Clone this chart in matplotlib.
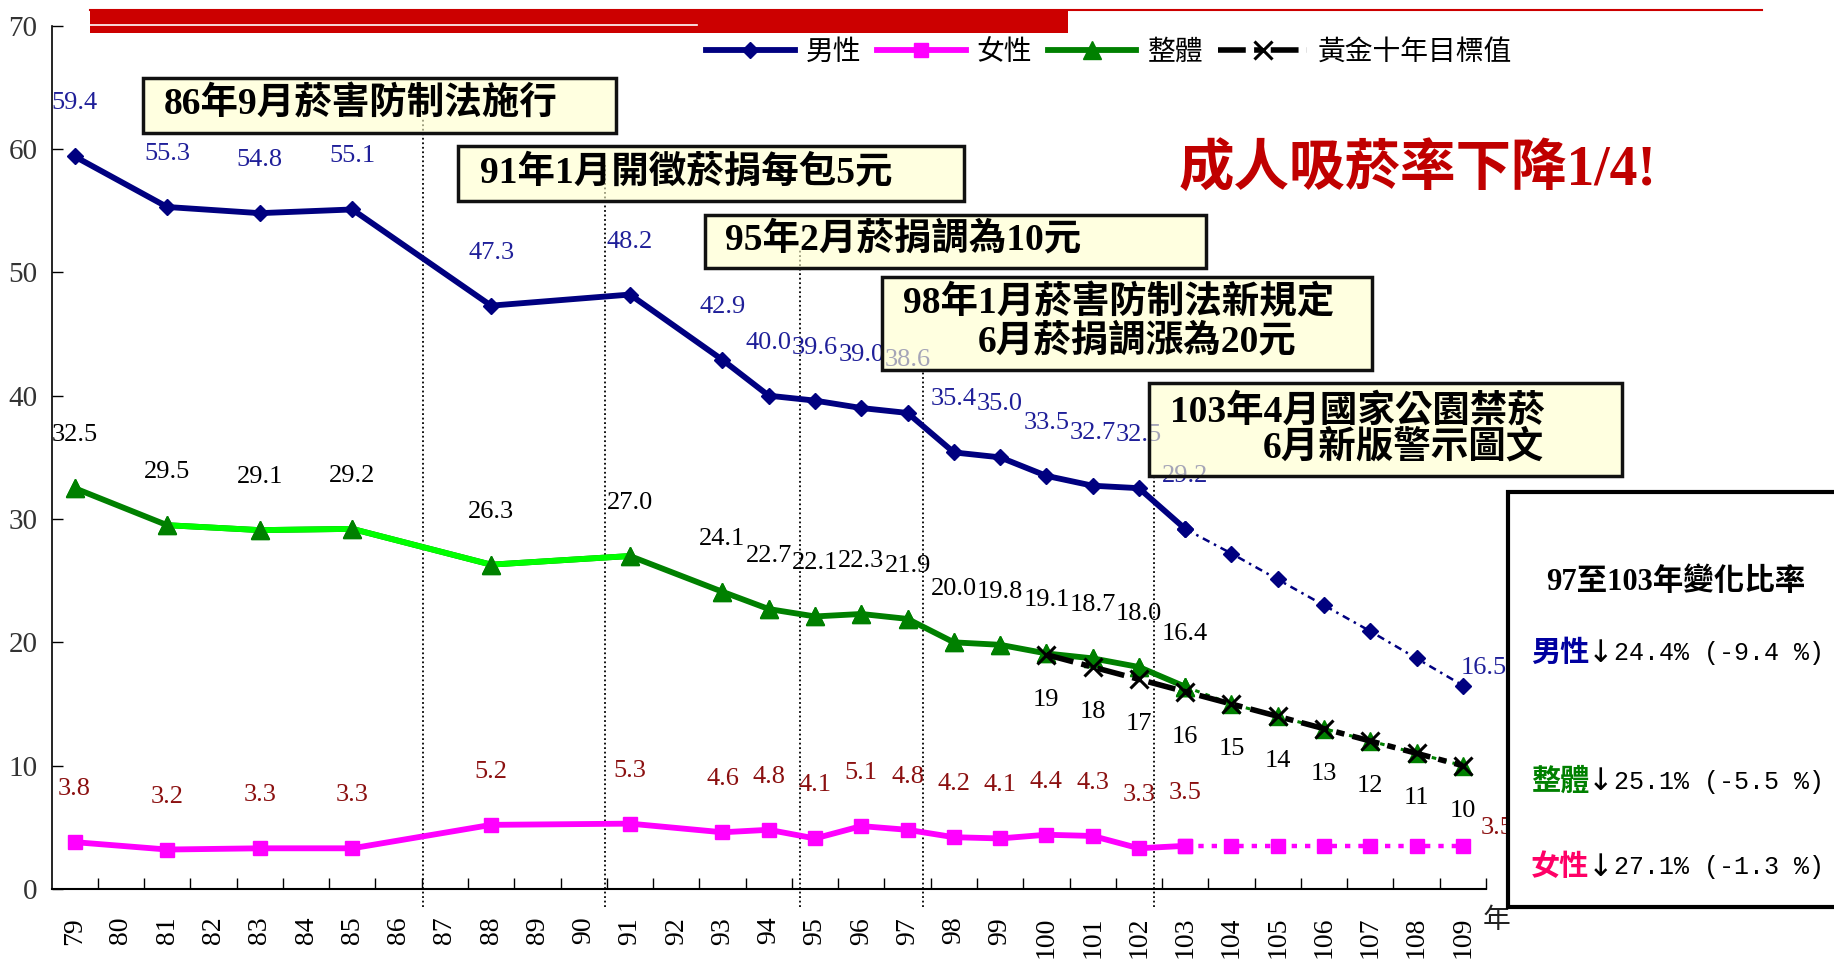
import matplotlib
matplotlib.use('Agg')
import matplotlib.pyplot as plt
from matplotlib.patches import Rectangle
from matplotlib.lines import Line2D

plt.rcParams['font.family'] = ['Liberation Serif', 'Noto Sans CJK TC', 'DejaVu Sans']

W, H = 1834, 960

# --- data ---
years = list(range(79, 110))
survey_years = [79, 81, 83, 85, 88, 91, 93, 94, 95, 96, 97, 98, 99, 100, 101, 102, 103]
male = [59.4, 55.3, 54.8, 55.1, 47.3, 48.2, 42.9, 40.0, 39.6, 39.0, 38.6, 35.4, 35.0, 33.5, 32.7, 32.5, 29.2]
female = [3.8, 3.2, 3.3, 3.3, 5.2, 5.3, 4.6, 4.8, 4.1, 5.1, 4.8, 4.2, 4.1, 4.4, 4.3, 3.3, 3.5]
overall = [32.5, 29.5, 29.1, 29.2, 26.3, 27.0, 24.1, 22.7, 22.1, 22.3, 21.9, 20.0, 19.8, 19.1, 18.7, 18.0, 16.4]

proj_years = [103, 104, 105, 106, 107, 108, 109]
male_proj = [29.2, 27.2, 25.1, 23.0, 20.9, 18.7, 16.5]
female_proj = [3.5, 3.5, 3.5, 3.5, 3.5, 3.5, 3.5]
overall_proj = [16.4, 15, 14, 13, 12, 11, 10]

target_years = [100, 101, 102, 103, 104, 105, 106, 107, 108, 109]
target = [19, 18, 17, 16, 15, 14, 13, 12, 11, 10]

# policy events: position on category axis, top of dotted line
event_x = [7.53, 11.46, 15.68, 18.34, 23.32]
event_top = [62.4, 58.7, 51.8, 42.1, 33.5]

navy = '#000080'
magenta = '#FF00FF'
dkgreen = '#008000'
lime = '#00FF00'

def pos(ys):
    return [years.index(y) for y in ys]

xs = pos(survey_years)
pxs = pos(proj_years)
txs = pos(target_years)

fig = plt.figure(figsize=(W / 100, H / 100), dpi=100)
ax = fig.add_axes([51.5 / W, 1 - 889 / H, (1486 - 51.5) / W, (889 - 25.7) / H])

# lines
lm, = ax.plot(xs, male, color=navy, lw=4.2, marker='D', ms=8.5, zorder=3)
ax.plot(pxs, male_proj, color=navy, lw=1.8, ls=(0, (3, 2, 1, 2)), marker='D', ms=8.5, zorder=3)

lf, = ax.plot(xs, female, color=magenta, lw=4.2, marker='s', ms=10.5, zorder=3)
ax.plot(pxs, female_proj, color=magenta, lw=3.2, ls=(0, (1.2, 1.8)), marker='s', ms=10.5, zorder=3)

lo, = ax.plot(xs, overall, color=dkgreen, lw=4.2, marker='^', ms=12.5, zorder=2)
ax.plot(xs[1:6], overall[1:6], color=lime, lw=4.2, zorder=2.1)
ax.plot(xs, overall, ls='none', color=dkgreen, marker='^', ms=12.5, zorder=3)
ax.plot(pxs, overall_proj, color=dkgreen, lw=2.2, ls=(0, (1.5, 2)), marker='^', ms=12.5, zorder=3)

lt, = ax.plot(txs, target, color='black', lw=4, ls=(0, (5, 1.5, 1.5, 1.5)),
              marker='x', ms=13, mew=2.2, zorder=4)

# data labels
lab = dict(textcoords='offset pixels', ha='center', va='center', fontsize=19)
for x, v in zip(xs, male):
    ax.annotate(f'{v:.1f}', (x, v), xytext=(0, 53), color='#1f1f99', **lab)
for x, v in zip(xs, overall):
    ax.annotate(f'{v:.1f}', (x, v), xytext=(0, 53), color='black', **lab)
for x, v in zip(xs, female):
    ax.annotate(f'{v:.1f}', (x, v), xytext=(0, 53), color='#8B1010', **lab)
for x, v in zip(txs, target):
    ax.annotate(f'{v:d}', (x, v), xytext=(0, -45), color='black', **lab)
ax.annotate(f'{male_proj[-1]:.1f}', (pxs[-1], male_proj[-1]), xytext=(-2, 18),
            textcoords='offset pixels', ha='left', va='center', fontsize=19, color='#1f1f99')
ax.annotate(f'{female_proj[-1]:.1f}', (pxs[-1], female_proj[-1]), xytext=(18, 18),
            textcoords='offset pixels', ha='left', va='center', fontsize=19, color='#8B1010')

# event dotted lines
for ex, et in zip(event_x, event_top):
    ax.vlines(ex, -1.46, et, colors='black', linestyles=(0, (1, 1.5)), lw=1.3, clip_on=False, zorder=1)

# axes
ax.set_xlim(-0.5, 30.5)
ax.set_ylim(0, 70)
ax.set_yticks(range(0, 71, 10))
ax.set_xticks(range(len(years)))
ax.set_xticklabels([str(y) for y in years], rotation=90, fontsize=20, va='top')
ax.set_xticks([i + 0.5 for i in range(len(years))], minor=True)
ax.tick_params(axis='x', which='major', length=0, pad=20)
ax.tick_params(axis='x', which='minor', direction='in', length=8, width=1)
ax.tick_params(axis='y', direction='in', length=8, width=1, labelsize=21, labelcolor='#333333', pad=10)
ax.spines['top'].set_visible(False)
ax.spines['right'].set_visible(False)
ax.spines['left'].set_linewidth(1.2)
ax.spines['bottom'].set_linewidth(1.5)
ax.set_facecolor('none')

# legend
leg = fig.legend([lm, lf, lo, lt], ['男性', '女性', '整體', '黃金十年目標值'],
                 loc='center left', bbox_to_anchor=(706 / W, 1 - 52 / H), ncol=4,
                 frameon=False, handlelength=3.2, handletextpad=0.4,
                 columnspacing=0.55, borderpad=0, borderaxespad=0, numpoints=1,
                 prop={'family': ['Noto Sans CJK TC'], 'size': 20})


def fx(x):
    return x / W


def fy(y):
    return 1 - y / H


# top red bars
fig.add_artist(Line2D([fx(90), fx(1762)], [fy(10), fy(10)], color='#CC0000', lw=1.5))
fig.add_artist(Rectangle((fx(90), fy(32.5)), fx(1068) - fx(90), (32.5 - 9.5) / H,
                         transform=fig.transFigure, facecolor='#CC0000', edgecolor='none'))
fig.add_artist(Line2D([fx(90), fx(697)], [fy(25), fy(25)], color='white', lw=1.2))

# policy boxes
boxes = [(143, 78, 616, 133), (458, 146, 964, 201), (705, 215, 1206, 268),
         (882, 277, 1372, 370), (1149, 383, 1622, 476)]
for x0, y0, x1, y1 in boxes:
    fig.add_artist(Rectangle((fx(x0), fy(y1)), (x1 - x0) / W, (y1 - y0) / H,
                             transform=fig.transFigure, facecolor=(1, 1, 0.8, 0.6),
                             edgecolor='#111111', lw=2.5, zorder=5))
box_texts = [('86年9月菸害防制法施行', 164, 105), ('91年1月開徵菸捐每包5元', 480, 173),
             ('95年2月菸捐調為10元', 725, 240), ('98年1月菸害防制法新規定', 903, 303),
             ('6月菸捐調漲為20元', 978, 342), ('103年4月國家公園禁菸', 1170, 412),
             ('6月新版警示圖文', 1263, 448)]
for s, x, y in box_texts:
    fig.text(fx(x), fy(y), s, ha='left', va='center', fontsize=27, fontweight='bold',
             color='black', zorder=6)

fig.text(fx(1179), fy(170), '成人吸菸率下降1/4!', ha='left', va='center', fontsize=40,
         fontweight='bold', color='#C00000', zorder=6)

# right summary box
fig.add_artist(Rectangle((fx(1508), fy(907)), 0.3, (907 - 492) / H, transform=fig.transFigure,
                         facecolor='white', edgecolor='black', lw=3, zorder=5))
fig.text(fx(1546), fy(582), '97至103年變化比率', ha='left', va='center', fontsize=22,
         fontweight='bold', color='black', zorder=6)
summary = [('男性', '#0000A0', '24.4% (-9.4 %)', 653),
           ('整體', '#008000', '25.1% (-5.5 %)', 782),
           ('女性', '#FF0066', '27.1% (-1.3 %)', 867)]
for name, c, rest, y in summary:
    fig.text(fx(1531), fy(y), name, ha='left', va='center', fontsize=21, fontweight='bold',
             color=c, zorder=6)
    fig.text(fx(1601), fy(y), '↓', ha='center', va='center', fontsize=22, color='black',
             family=['DejaVu Sans'], zorder=6)
    fig.text(fx(1614), fy(y), rest, ha='left', va='center', fontsize=18, color='black',
             family=['Liberation Mono', 'DejaVu Sans'], zorder=6)

fig.text(fx(1497), fy(920), '年', ha='center', va='center', fontsize=20, color='#222222',
         family=['Noto Sans CJK TC'])

fig.savefig('out.png', dpi=100, facecolor='white')
